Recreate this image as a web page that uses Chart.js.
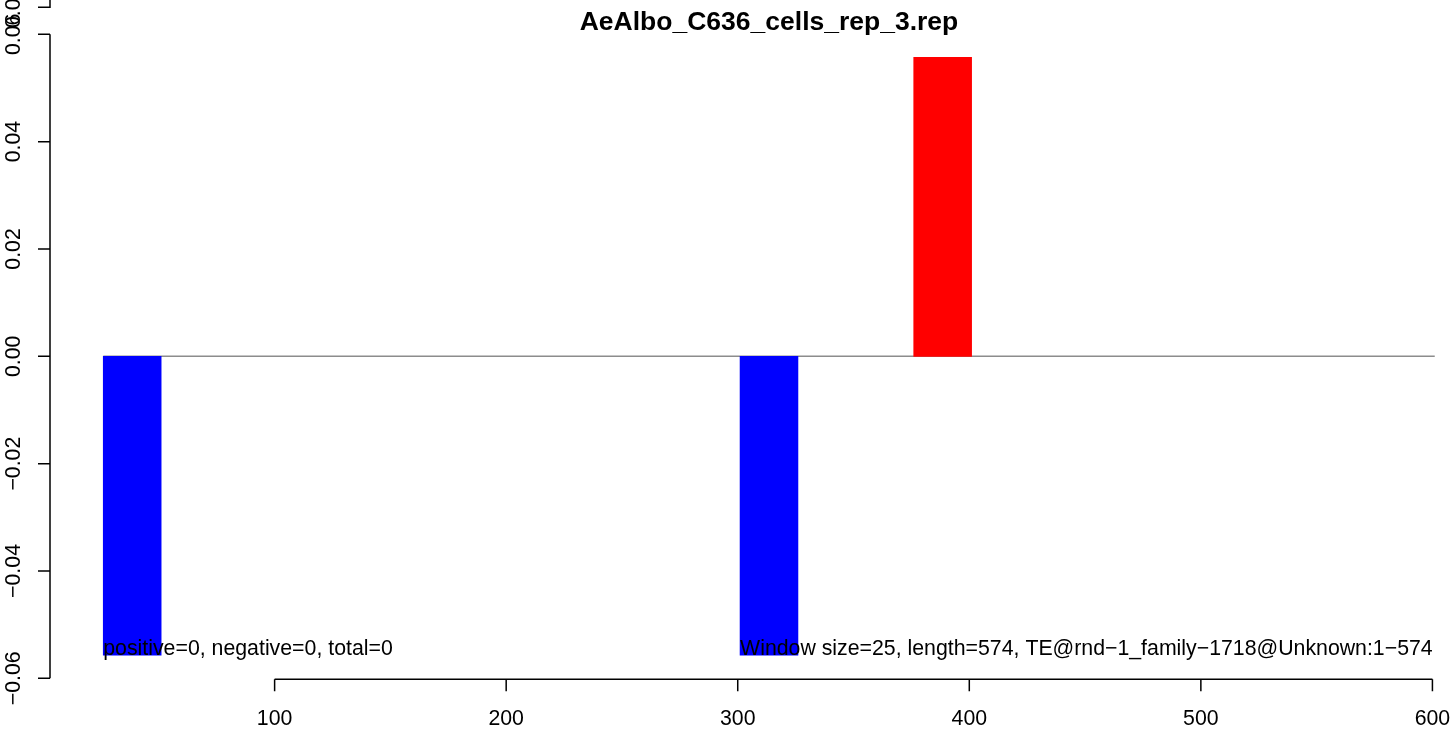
<!DOCTYPE html>
<html>
<head>
<meta charset="utf-8">
<title>AeAlbo_C636_cells_rep_3.rep</title>
<script src="https://cdn.jsdelivr.net/npm/chart.js@4/dist/chart.umd.min.js"></script>
<style>
    html, body { margin: 0; padding: 0; background: #ffffff; }
    #wrap { width: 1450px; height: 730px; position: relative; }
</style>
</head>
<body>
<div id="wrap"><canvas id="chart"></canvas></div>
<script>
// window starts along the TE (window size 25)
const windowStarts = [26, 51, 76, 101, 126, 151, 176, 201, 226, 251, 276, 301,
                      326, 351, 376, 401, 426, 451, 476, 501, 526, 551, 576];
const windowValues = [-0.0557, 0, 0, 0, 0, 0, 0, 0, 0, 0, 0, -0.0557,
                      0, 0, 0.0557, 0, 0, 0, 0, 0, 0, 0, 0];
const windowSize = 25;

const xTicks = [100, 200, 300, 400, 500, 600];
const yTicks = [-0.06, -0.04, -0.02, 0.00, 0.02, 0.04, 0.06];
const yTickLabels = ['\u22120.06', '\u22120.04', '\u22120.02', '0.00', '0.02', '0.04', '0.06'];
// stray axis fragment left over at the very top of the original plot
const ghostTickLabel = '0.06';

const titleText = 'AeAlbo_C636_cells_rep_3.rep';
const leftNote = 'positive=0, negative=0, total=0';
const rightNote = 'Window size=25, length=574, TE@rnd\u22121_family\u22121718@Unknown:1\u2212574';

const FONT = '"Liberation Sans", Arial, Helvetica, sans-serif';

const barData = windowStarts.map((s, i) => ({ x: s + windowSize / 2, y: windowValues[i] }));
const zeroLine = [
    { x: windowStarts[0], y: 0 },
    { x: windowStarts[windowStarts.length - 1] + windowSize, y: 0 }
];

function barColor(c) {
    const v = c.raw ? c.raw.y : 0;
    if (v > 0) return '#ff0000';
    if (v < 0) return '#0000ff';
    return 'rgba(0,0,0,0)';
}

// R style axes, title and notes
const baseGraphics = {
    id: 'baseGraphics',
    afterDraw(chart) {
        const ctx = chart.ctx;
        const xs = chart.scales.x;
        const ys = chart.scales.y;
        const area = chart.chartArea;
        const tick = 12;

        ctx.save();
        ctx.strokeStyle = '#000000';
        ctx.fillStyle = '#000000';
        ctx.lineWidth = 1.5;

        // y axis
        const yAxisX = area.left;
        ctx.beginPath();
        ctx.moveTo(yAxisX, ys.getPixelForValue(yTicks[0]));
        ctx.lineTo(yAxisX, ys.getPixelForValue(yTicks[yTicks.length - 1]));
        yTicks.forEach(v => {
            const py = ys.getPixelForValue(v);
            ctx.moveTo(yAxisX, py);
            ctx.lineTo(yAxisX - tick, py);
        });
        // leftover fragment at the top
        ctx.moveTo(yAxisX, 0);
        ctx.lineTo(yAxisX, 7.3);
        ctx.lineTo(yAxisX - tick, 7.3);
        ctx.stroke();

        ctx.font = '21.3px ' + FONT;
        ctx.textAlign = 'center';
        ctx.textBaseline = 'alphabetic';
        yTicks.forEach((v, i) => {
            const py = ys.getPixelForValue(v);
            ctx.save();
            ctx.translate(19.5, py);
            ctx.rotate(-Math.PI / 2);
            ctx.fillText(yTickLabels[i], 0, 0);
            ctx.restore();
        });
        ctx.save();
        ctx.translate(19.5, 7.3);
        ctx.rotate(-Math.PI / 2);
        ctx.fillText(ghostTickLabel, 0, 0);
        ctx.restore();

        // x axis
        const xAxisY = area.bottom + 1;
        ctx.beginPath();
        ctx.moveTo(xs.getPixelForValue(xTicks[0]), xAxisY);
        ctx.lineTo(xs.getPixelForValue(xTicks[xTicks.length - 1]), xAxisY);
        xTicks.forEach(v => {
            const px = xs.getPixelForValue(v);
            ctx.moveTo(px, xAxisY);
            ctx.lineTo(px, xAxisY + tick);
        });
        ctx.stroke();
        xTicks.forEach(v => {
            ctx.fillText(String(v), xs.getPixelForValue(v), 725);
        });

        // title
        ctx.font = 'bold 26.5px ' + FONT;
        ctx.fillText(titleText, 769, 30);

        // notes at the bottom of the bars
        ctx.font = '21.3px ' + FONT;
        ctx.textAlign = 'left';
        const noteY = ys.getPixelForValue(windowValues[0]);
        ctx.fillText(leftNote, xs.getPixelForValue(windowStarts[0]), noteY);
        ctx.fillText(rightNote, xs.getPixelForValue(windowStarts[11]), noteY);

        ctx.restore();
    }
};

new Chart(document.getElementById('chart'), {
    data: {
        datasets: [
            {
                type: 'line',
                data: zeroLine,
                borderColor: '#8c8c8c',
                borderWidth: 1.4,
                pointRadius: 0,
                fill: false,
                order: 2
            },
            {
                type: 'bar',
                data: barData,
                backgroundColor: barColor,
                borderWidth: 0,
                categoryPercentage: 1.0,
                barPercentage: 1.0,
                order: 1
            }
        ]
    },
    options: {
        responsive: true,
        maintainAspectRatio: false,
        animation: false,
        layout: {
            padding: { left: 50, right: 6, top: 34.3, bottom: 51.7 }
        },
        plugins: {
            legend: { display: false },
            title: { display: false },
            tooltip: { enabled: false }
        },
        scales: {
            x: {
                type: 'linear',
                display: false,
                offset: false,
                min: 3,
                max: 605,
                afterBuildTicks: axis => {
                    axis.ticks = xTicks.map(v => ({ value: v }));
                }
            },
            y: {
                type: 'linear',
                display: false,
                min: -0.06,
                max: 0.06,
                grid: { lineWidth: 0 }
            }
        }
    },
    plugins: [baseGraphics]
});
</script>
</body>
</html>
